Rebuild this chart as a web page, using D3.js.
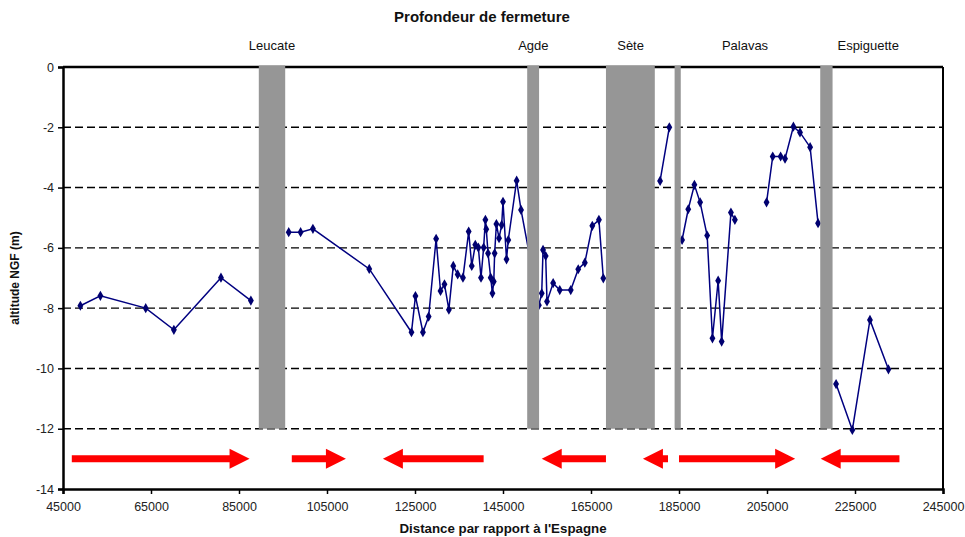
<!DOCTYPE html>
<html>
<head>
<meta charset="utf-8">
<script src="https://cdn.jsdelivr.net/npm/d3@7"></script>
<style>
  html, body { margin: 0; padding: 0; background: #ffffff; }
  svg { display: block; }
  text { font-family: "Liberation Sans", Arial, sans-serif; }
</style>
</head>
<body>
<svg id="chart" width="965" height="537"></svg>
<script>
// ---- data ----
const distances = [
  48950, 53500, 63800, 70200, 80900, 87700,
  92500,
  96300, 99000, 101800, 114600, 124200, 125100, 126800, 128100, 129800, 130800,
  131700, 132700, 133700, 134700, 135900, 137200, 137900, 138700, 139400, 140000,
  140600, 141000, 141200, 141600, 142200, 142600, 142900, 143100, 143500, 144100,
  144700, 145000, 145800, 146200, 148100, 149100, 153150, 153800, 154100, 154700,
  155000, 156400, 157900, 160400, 162100, 163600, 165300, 166800, 167800,
  174000,
  180700, 182800,
  184700,
  185700, 187100, 188500, 189800, 191400, 192600, 193900, 194700, 196800, 197700,
  201000,
  204900, 206300, 208100, 209100, 211000, 212500, 214800, 216600,
  218500,
  220700, 224400, 228400, 232600
];
const altitudes = [
  -7.92, -7.59, -8.0, -8.72, -6.99, -7.75,
  null,
  -5.48, -5.48, -5.37, -6.70, -8.80, -7.60, -8.80, -8.28, -5.70, -7.43,
  -7.21, -8.05, -6.60, -6.88, -6.99, -5.46, -6.60, -5.90, -5.99, -6.99,
  -5.99, -5.07, -5.38, -6.18, -6.99, -7.51, -7.12, -6.18, -5.21, -5.68,
  -5.24, -4.47, -6.38, -5.74, -3.77, -4.74, -7.90, -7.51, -6.07, -6.27,
  -7.78, -7.17, -7.40, -7.40, -6.71, -6.49, -5.27, -5.07, -7.01,
  null,
  -3.78, -2.00,
  null,
  -5.74, -4.72, -3.91, -4.49, -5.59, -9.00, -7.09, -9.11, -4.83, -5.07,
  null,
  -4.49, -2.97, -2.97, -3.04, -1.98, -2.17, -2.66, -5.18,
  null,
  -10.52, -12.04, -8.39, -10.03
];

const zoneNames = ["Leucate", "Agde", "Sète", "Palavas", "Espiguette"];
const zoneLabelX = [92500, 151900, 174000, 200000, 228000];
const bandStart = [89500, 150500, 168400, 184000, 217100];
const bandEnd   = [95500, 153200, 179500, 185400, 219900];

const arrowFrom = [47000, 97000, 140600, 168400, 182500, 185000, 235100];
const arrowTo   = [87400, 109300, 117700, 153800, 176800, 211400, 217200];
const arrowLevel = -13;

const xTicks = [45000, 65000, 85000, 105000, 125000, 145000, 165000, 185000, 205000, 225000, 245000];
const yTicks = [0, -2, -4, -6, -8, -10, -12, -14];
const gridLevels = [-2, -4, -6, -8, -10, -12];

const chartTitle = "Profondeur de fermeture";
const xTitle = "Distance par rapport à l'Espagne";
const yTitle = "altitude NGF (m)";

// ---- drawing ----
(function () {
const svg = d3.select("#chart");
const mLeft = 63, mRight = 943, mTop = 67, mBottom = 489;

const x = d3.scaleLinear().domain([45000, 245000]).range([mLeft, mRight]);
const y = d3.scaleLinear().domain([-14, 0]).range([mBottom, mTop]);

// gridlines
svg.append("g").selectAll("line").data(gridLevels).join("line")
  .attr("x1", mLeft).attr("x2", mRight)
  .attr("y1", d => y(d)).attr("y2", d => y(d))
  .attr("stroke", "#000").attr("stroke-width", 1.4)
  .attr("stroke-dasharray", "8,4");

// top and right frame
svg.append("line").attr("x1", mLeft).attr("x2", mRight).attr("y1", y(0)).attr("y2", y(0))
  .attr("stroke", "#000").attr("stroke-width", 2.5);
svg.append("line").attr("x1", mRight).attr("x2", mRight).attr("y1", y(0)).attr("y2", y(-14))
  .attr("stroke", "#000").attr("stroke-width", 2);

// series
const pts = distances.map((d, i) => ({ x: d, y: altitudes[i] }));
const line = d3.line().defined(d => d.y !== null).x(d => x(d.x)).y(d => y(d.y));
svg.append("path").datum(pts)
  .attr("fill", "none").attr("stroke", "#000080").attr("stroke-width", 1.5)
  .attr("d", line);
const sym = d3.symbol().type(d3.symbolDiamond).size(30);
svg.append("g").selectAll("path").data(pts.filter(d => d.y !== null)).join("path")
  .attr("transform", d => `translate(${x(d.x)},${y(d.y)})`)
  .attr("d", sym).attr("fill", "#000070");

// grey bands
svg.append("g").selectAll("rect").data(bandStart).join("rect")
  .attr("x", (d) => x(d))
  .attr("width", (d, i) => x(bandEnd[i]) - x(d))
  .attr("y", y(0) - 1.5)
  .attr("height", y(-12) - y(0) + 1.5)
  .attr("fill", "#969696");

// zone labels
svg.append("g").selectAll("text").data(zoneNames).join("text")
  .attr("x", (d, i) => x(zoneLabelX[i]))
  .attr("y", 50)
  .attr("text-anchor", "middle")
  .attr("font-size", 13).attr("fill", "#111")
  .text(d => d);

// arrows
const ag = svg.append("g");
arrowFrom.forEach((f, i) => {
  const x0 = x(f), x1 = x(arrowTo[i]);
  const dir = x1 > x0 ? 1 : -1;
  const yc = y(arrowLevel);
  const headLen = 20, headHalf = 10, shaftHalf = 3.5;
  const xb = x1 - dir * headLen;
  const p = [
    [x0, yc - shaftHalf], [xb, yc - shaftHalf], [xb, yc - headHalf], [x1, yc],
    [xb, yc + headHalf], [xb, yc + shaftHalf], [x0, yc + shaftHalf]
  ];
  ag.append("path").attr("d", "M" + p.map(q => q.join(",")).join("L") + "Z")
    .attr("fill", "#ff0000");
});

// axes
const xAxis = d3.axisBottom(x).tickValues(xTicks).tickFormat(d3.format("d")).tickSize(5).tickPadding(8);
const gx = svg.append("g").attr("transform", `translate(0,${mBottom})`).call(xAxis);
gx.select(".domain").attr("stroke", "#000").attr("stroke-width", 2.5);
gx.selectAll(".tick line").attr("stroke", "#000").attr("stroke-width", 1.5);
gx.selectAll(".tick text").attr("font-size", 12.5).attr("fill", "#222")
  .attr("font-family", "Liberation Sans, Arial, sans-serif");

const yAxis = d3.axisLeft(y).tickValues(yTicks).tickFormat(d => String(d)).tickSize(5).tickPadding(4);
const gy = svg.append("g").attr("transform", `translate(${mLeft},0)`).call(yAxis);
gy.select(".domain").attr("stroke", "#000").attr("stroke-width", 2.5);
gy.selectAll(".tick line").attr("stroke", "#000").attr("stroke-width", 1.5);
gy.selectAll(".tick text").attr("font-size", 12.5).attr("fill", "#222")
  .attr("font-family", "Liberation Sans, Arial, sans-serif");

// titles
svg.append("text").attr("x", 482).attr("y", 22).attr("text-anchor", "middle")
  .attr("font-size", 15).attr("font-weight", "bold").attr("fill", "#111").text(chartTitle);
svg.append("text").attr("x", (mLeft + mRight) / 2).attr("y", 533).attr("text-anchor", "middle")
  .attr("font-size", 13.3).attr("font-weight", "bold").attr("fill", "#111").text(xTitle);
svg.append("text").attr("transform", `translate(19,${(mTop + mBottom) / 2}) rotate(-90)`)
  .attr("text-anchor", "middle")
  .attr("font-size", 12).attr("font-weight", "bold").attr("fill", "#111").text(yTitle);
})();
</script>
</body>
</html>
